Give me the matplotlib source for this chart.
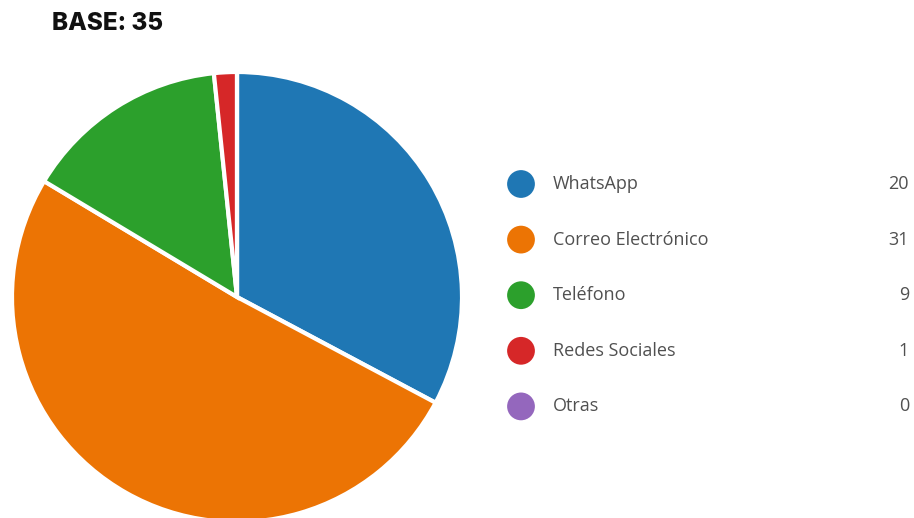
import matplotlib
matplotlib.use("Agg")
import matplotlib.pyplot as plt

categories = ["WhatsApp", "Correo Electrónico", "Teléfono", "Redes Sociales", "Otras"]
values = [20, 31, 9, 1, 0]
colors = ["#1f77b4", "#ec7404", "#2ca02c", "#d62728", "#9467bd"]
title = "BASE: 35"

W, H = 914, 518
fig = plt.figure(figsize=(W / 100, H / 100), dpi=100)
ax = fig.add_axes([0, 0, 1, 1])

# pie in pixel-like coordinates (y up)
cx, cy, r = 237, H - 297, 225
ax.pie(values, colors=colors, startangle=90, counterclock=False,
       center=(cx, cy), radius=r, frame=True,
       wedgeprops=dict(edgecolor="white", linewidth=3, antialiased=True))
ax.set_xlim(0, W)
ax.set_ylim(0, H)
ax.set_aspect("equal")
ax.axis("off")

fig.text(52 / W, 1 - 23 / H, title, fontsize=17.5, fontweight="heavy",
         family=["Inter", "Roboto", "DejaVu Sans"], color="#111111",
         va="center", ha="left")

# legend
row_y0, row_step = 184, 55.6
for i, (cat, val, col) in enumerate(zip(categories, values, colors)):
    y = H - (row_y0 + i * row_step)
    ax.scatter([521], [y], s=400, color=col, zorder=5, edgecolors="none")
    ax.text(553, y, cat, fontsize=13, color="#505050", va="center", ha="left",
            family=["Open Sans", "DejaVu Sans"])
    ax.text(909, y, str(val), fontsize=13, color="#505050", va="center", ha="right",
            family=["Open Sans", "DejaVu Sans"])

fig.savefig("out.png", dpi=100, facecolor="white")
